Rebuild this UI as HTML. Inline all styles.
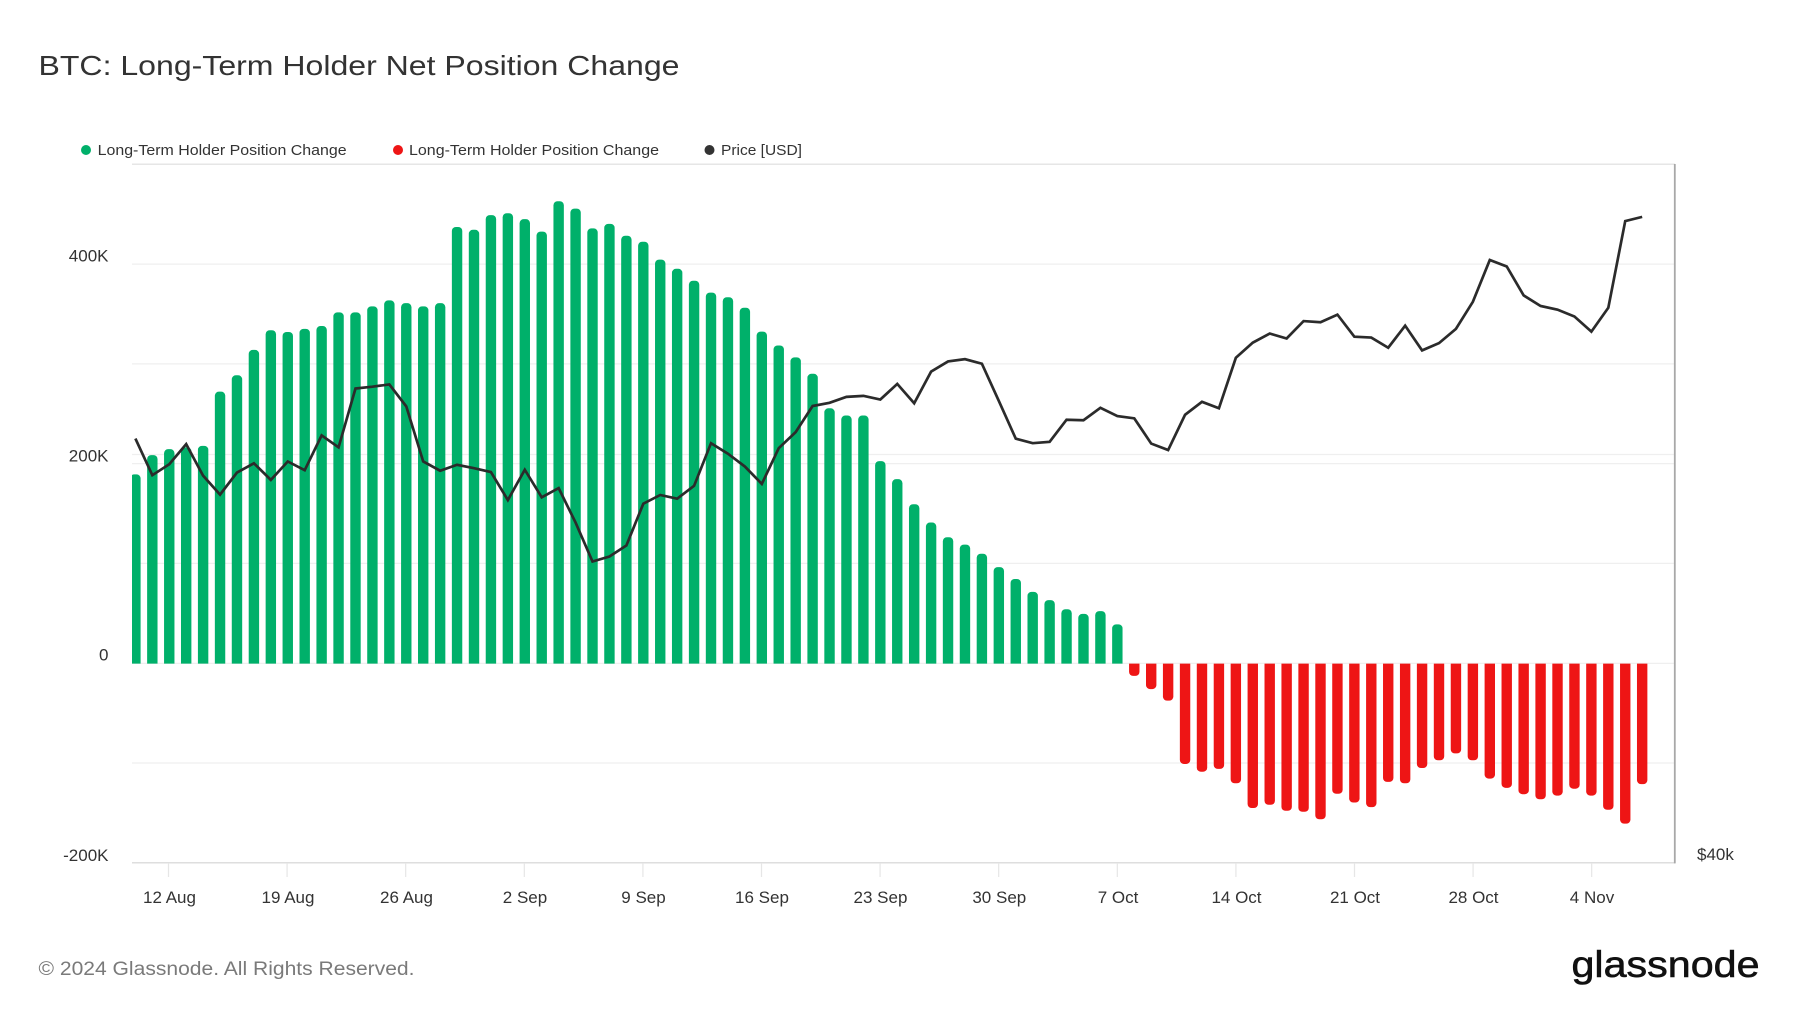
<!DOCTYPE html>
<html>
<head>
<meta charset="utf-8">
<style>
html,body{margin:0;padding:0;background:#fff;}
svg{display:block;}
text{font-family:"Liberation Sans",Arial,sans-serif;}
</style>
</head>
<body>
<svg width="1800" height="1013" viewBox="0 0 1800 1013" xmlns="http://www.w3.org/2000/svg">
<defs>
<clipPath id="pos"><rect x="132" y="150" width="1543" height="516.5"/></clipPath>
<clipPath id="neg"><rect x="132" y="666.5" width="1543" height="200"/></clipPath>
</defs>
<rect width="1800" height="1013" fill="#fff"/>
<text x="38.5" y="75" font-size="28" fill="#333" textLength="641" lengthAdjust="spacingAndGlyphs">BTC: Long-Term Holder Net Position Change</text>

<circle cx="86" cy="150" r="5" fill="#00b06a"/>
<text x="97.6" y="155" font-size="15" fill="#333" textLength="249" lengthAdjust="spacingAndGlyphs">Long-Term Holder Position Change</text>
<circle cx="398" cy="150" r="5" fill="#ee1515"/>
<text x="409" y="155" font-size="15" fill="#333" textLength="250" lengthAdjust="spacingAndGlyphs">Long-Term Holder Position Change</text>
<circle cx="709.5" cy="150" r="5" fill="#333"/>
<text x="721" y="155" font-size="15" fill="#333" textLength="81" lengthAdjust="spacingAndGlyphs">Price [USD]</text>

<g stroke="#efefef" stroke-width="1.2">
<line x1="132" y1="264.1" x2="1675" y2="264.1"/>
<line x1="132" y1="363.9" x2="1675" y2="363.9"/>
<line x1="132" y1="454.5" x2="1675" y2="454.5"/>
<line x1="132" y1="463.6" x2="1675" y2="463.6"/>
<line x1="132" y1="563.4" x2="1675" y2="563.4"/>
<line x1="132" y1="663.4" x2="1675" y2="663.4"/>
<line x1="132" y1="763" x2="1675" y2="763"/>
</g>
<line x1="132" y1="164.3" x2="1675" y2="164.3" stroke="#e6e6e6" stroke-width="1.5"/>
<line x1="132" y1="862.7" x2="1675" y2="862.7" stroke="#dedede" stroke-width="1.5"/>
<line x1="1674.8" y1="164" x2="1674.8" y2="863.4" stroke="#a8a8a8" stroke-width="1.8"/>
<g stroke="#e6e6e6" stroke-width="1.2">
<line x1="168.5" y1="863" x2="168.5" y2="877"/>
<line x1="287.1" y1="863" x2="287.1" y2="877"/>
<line x1="405.7" y1="863" x2="405.7" y2="877"/>
<line x1="524.3" y1="863" x2="524.3" y2="877"/>
<line x1="642.9" y1="863" x2="642.9" y2="877"/>
<line x1="761.5" y1="863" x2="761.5" y2="877"/>
<line x1="880.1" y1="863" x2="880.1" y2="877"/>
<line x1="998.7" y1="863" x2="998.7" y2="877"/>
<line x1="1117.3" y1="863" x2="1117.3" y2="877"/>
<line x1="1235.9" y1="863" x2="1235.9" y2="877"/>
<line x1="1354.5" y1="863" x2="1354.5" y2="877"/>
<line x1="1473.1" y1="863" x2="1473.1" y2="877"/>
<line x1="1591.7" y1="863" x2="1591.7" y2="877"/>
</g>

<g font-size="17" fill="#333" text-anchor="end">
<text x="108.5" y="261.4">400K</text>
<text x="108.5" y="461.5">200K</text>
<text x="108.5" y="660.3">0</text>
<text x="108.5" y="860.8">-200K</text>
</g>
<text x="1697" y="860" font-size="17" fill="#333">$40k</text>

<g font-size="17" fill="#333" text-anchor="middle">
<text x="169.5" y="903">12 Aug</text>
<text x="288" y="903">19 Aug</text>
<text x="406.5" y="903">26 Aug</text>
<text x="525" y="903">2 Sep</text>
<text x="643.5" y="903">9 Sep</text>
<text x="762" y="903">16 Sep</text>
<text x="880.5" y="903">23 Sep</text>
<text x="999.3" y="903">30 Sep</text>
<text x="1118" y="903">7 Oct</text>
<text x="1236.5" y="903">14 Oct</text>
<text x="1355" y="903">21 Oct</text>
<text x="1473.5" y="903">28 Oct</text>
<text x="1592" y="903">4 Nov</text>
</g>

<g transform="matrix(1 0 0 0.99434 0 0.9056)">
<g fill="#00b06a" clip-path="url(#pos)">
<rect x="130.20" y="476.2" width="10.4" height="196.3" rx="4"/>
<rect x="147.13" y="456.8" width="10.4" height="215.7" rx="4"/>
<rect x="164.06" y="450.8" width="10.4" height="221.7" rx="4"/>
<rect x="180.99" y="449" width="10.4" height="223.5" rx="4"/>
<rect x="197.92" y="447.5" width="10.4" height="225" rx="4"/>
<rect x="214.85" y="393" width="10.4" height="279.5" rx="4"/>
<rect x="231.78" y="376.5" width="10.4" height="296" rx="4"/>
<rect x="248.71" y="351" width="10.4" height="321.5" rx="4"/>
<rect x="265.64" y="331.2" width="10.4" height="341.3" rx="4"/>
<rect x="282.57" y="333" width="10.4" height="339.5" rx="4"/>
<rect x="299.50" y="329.8" width="10.4" height="342.7" rx="4"/>
<rect x="316.43" y="327" width="10.4" height="345.5" rx="4"/>
<rect x="333.36" y="313.2" width="10.4" height="359.3" rx="4"/>
<rect x="350.29" y="313.2" width="10.4" height="359.3" rx="4"/>
<rect x="367.22" y="307.2" width="10.4" height="365.3" rx="4"/>
<rect x="384.15" y="301.2" width="10.4" height="371.3" rx="4"/>
<rect x="401.08" y="304" width="10.4" height="368.5" rx="4"/>
<rect x="418.01" y="307.2" width="10.4" height="365.3" rx="4"/>
<rect x="434.94" y="304" width="10.4" height="368.5" rx="4"/>
<rect x="451.87" y="227.4" width="10.4" height="445.1" rx="4"/>
<rect x="468.80" y="230.2" width="10.4" height="442.3" rx="4"/>
<rect x="485.73" y="215.4" width="10.4" height="457.1" rx="4"/>
<rect x="502.66" y="213.5" width="10.4" height="459" rx="4"/>
<rect x="519.59" y="219.5" width="10.4" height="453" rx="4"/>
<rect x="536.52" y="232" width="10.4" height="440.5" rx="4"/>
<rect x="553.45" y="201.5" width="10.4" height="471" rx="4"/>
<rect x="570.38" y="208.9" width="10.4" height="463.6" rx="4"/>
<rect x="587.31" y="228.8" width="10.4" height="443.7" rx="4"/>
<rect x="604.24" y="224.2" width="10.4" height="448.3" rx="4"/>
<rect x="621.17" y="236.2" width="10.4" height="436.3" rx="4"/>
<rect x="638.10" y="242.2" width="10.4" height="430.3" rx="4"/>
<rect x="655.03" y="260.2" width="10.4" height="412.3" rx="4"/>
<rect x="671.96" y="269.4" width="10.4" height="403.1" rx="4"/>
<rect x="688.89" y="281.4" width="10.4" height="391.1" rx="4"/>
<rect x="705.82" y="293.4" width="10.4" height="379.1" rx="4"/>
<rect x="722.75" y="298" width="10.4" height="374.5" rx="4"/>
<rect x="739.68" y="308.6" width="10.4" height="363.9" rx="4"/>
<rect x="756.61" y="332.6" width="10.4" height="339.9" rx="4"/>
<rect x="773.54" y="346.5" width="10.4" height="326" rx="4"/>
<rect x="790.47" y="358.5" width="10.4" height="314" rx="4"/>
<rect x="807.40" y="375" width="10.4" height="297.5" rx="4"/>
<rect x="824.33" y="409.7" width="10.4" height="262.8" rx="4"/>
<rect x="841.26" y="417" width="10.4" height="255.5" rx="4"/>
<rect x="858.19" y="417" width="10.4" height="255.5" rx="4"/>
<rect x="875.12" y="462.8" width="10.4" height="209.7" rx="4"/>
<rect x="892.05" y="481" width="10.4" height="191.5" rx="4"/>
<rect x="908.98" y="506.2" width="10.4" height="166.3" rx="4"/>
<rect x="925.91" y="524.6" width="10.4" height="147.9" rx="4"/>
<rect x="942.84" y="539.4" width="10.4" height="133.1" rx="4"/>
<rect x="959.77" y="546.8" width="10.4" height="125.7" rx="4"/>
<rect x="976.70" y="556" width="10.4" height="116.5" rx="4"/>
<rect x="993.63" y="569.4" width="10.4" height="103.1" rx="4"/>
<rect x="1010.56" y="581.4" width="10.4" height="91.1" rx="4"/>
<rect x="1027.49" y="594.3" width="10.4" height="78.2" rx="4"/>
<rect x="1044.42" y="602.6" width="10.4" height="69.9" rx="4"/>
<rect x="1061.35" y="611.8" width="10.4" height="60.7" rx="4"/>
<rect x="1078.28" y="616.5" width="10.4" height="56" rx="4"/>
<rect x="1095.21" y="613.7" width="10.4" height="58.8" rx="4"/>
<rect x="1112.14" y="627" width="10.4" height="45.5" rx="4"/>
</g>
<g fill="#ee1515" clip-path="url(#neg)">
<rect x="1129.07" y="660.5" width="10.4" height="18.3" rx="4"/>
<rect x="1146.00" y="660.5" width="10.4" height="31.6" rx="4"/>
<rect x="1162.93" y="660.5" width="10.4" height="43.2" rx="4"/>
<rect x="1179.86" y="660.5" width="10.4" height="106.9" rx="4"/>
<rect x="1196.79" y="660.5" width="10.4" height="114.7" rx="4"/>
<rect x="1213.72" y="660.5" width="10.4" height="111.9" rx="4"/>
<rect x="1230.65" y="660.5" width="10.4" height="126.3" rx="4"/>
<rect x="1247.58" y="660.5" width="10.4" height="151.2" rx="4"/>
<rect x="1264.51" y="660.5" width="10.4" height="147.9" rx="4"/>
<rect x="1281.44" y="660.5" width="10.4" height="154" rx="4"/>
<rect x="1298.37" y="660.5" width="10.4" height="155" rx="4"/>
<rect x="1315.30" y="660.5" width="10.4" height="162.5" rx="4"/>
<rect x="1332.23" y="660.5" width="10.4" height="136.9" rx="4"/>
<rect x="1349.16" y="660.5" width="10.4" height="145.7" rx="4"/>
<rect x="1366.09" y="660.5" width="10.4" height="150.3" rx="4"/>
<rect x="1383.02" y="660.5" width="10.4" height="124.9" rx="4"/>
<rect x="1399.95" y="660.5" width="10.4" height="126.3" rx="4"/>
<rect x="1416.88" y="660.5" width="10.4" height="111" rx="4"/>
<rect x="1433.81" y="660.5" width="10.4" height="103.2" rx="4"/>
<rect x="1450.74" y="660.5" width="10.4" height="96.3" rx="4"/>
<rect x="1467.67" y="660.5" width="10.4" height="103.2" rx="4"/>
<rect x="1484.60" y="660.5" width="10.4" height="121.6" rx="4"/>
<rect x="1501.53" y="660.5" width="10.4" height="130.9" rx="4"/>
<rect x="1518.46" y="660.5" width="10.4" height="137.3" rx="4"/>
<rect x="1535.39" y="660.5" width="10.4" height="142.4" rx="4"/>
<rect x="1552.32" y="660.5" width="10.4" height="138.7" rx="4"/>
<rect x="1569.25" y="660.5" width="10.4" height="131.8" rx="4"/>
<rect x="1586.18" y="660.5" width="10.4" height="138.7" rx="4"/>
<rect x="1603.11" y="660.5" width="10.4" height="153" rx="4"/>
<rect x="1620.04" y="660.5" width="10.4" height="166.9" rx="4"/>
<rect x="1636.97" y="660.5" width="10.4" height="127.2" rx="4"/>
</g>
<polyline fill="none" stroke="#2b2b2b" stroke-width="2.7" stroke-linejoin="miter" stroke-miterlimit="3" points="135.40,440.2 152.33,477 169.26,466 186.19,445.7 203.12,477.5 220.05,496.5 236.98,474.3 253.91,465 270.84,481.7 287.77,463.2 304.70,472 321.63,437 338.56,449 355.49,389.8 372.42,388 389.35,385.7 406.28,407.8 423.21,463.2 440.14,472.5 457.07,466.5 474.00,470 490.93,473.8 507.86,502 524.79,471.5 541.72,499.2 558.65,490 575.58,524.6 592.51,563.8 609.44,558.8 626.37,547.7 643.30,505.7 660.23,496.9 677.16,500.6 694.09,487.7 711.02,444.8 727.95,455.4 744.88,468.3 761.81,485.8 778.74,449.8 795.67,433.7 812.60,407.4 829.53,404.2 846.46,398.2 863.39,397.2 880.32,400.9 897.25,385.2 914.18,404.6 931.11,372.8 948.04,362.6 964.97,360.3 981.90,364.9 998.83,402.3 1015.76,440.2 1032.69,444.8 1049.62,443.4 1066.55,421.2 1083.48,421.7 1100.41,409.2 1117.34,417.5 1134.27,419.8 1151.20,445.2 1168.13,451.7 1185.06,416.2 1201.99,403.2 1218.92,409.7 1235.85,358.9 1252.78,343.7 1269.71,334.5 1286.64,339.5 1303.57,322 1320.50,323.2 1337.43,315.5 1354.36,337.7 1371.29,338.6 1388.22,348.8 1405.15,326.6 1422.08,351.5 1439.01,344.2 1455.94,329.8 1472.87,302.6 1489.80,260.6 1506.73,267.1 1523.66,296.2 1540.59,306.8 1557.52,310.5 1574.45,317.4 1591.38,332.6 1608.31,308.6 1625.24,221.4 1642.17,217.2"/>
</g>

<text x="38.5" y="975" font-size="19" fill="#7a7a7a" textLength="376" lengthAdjust="spacingAndGlyphs">© 2024 Glassnode. All Rights Reserved.</text>
<text x="1571.5" y="977" font-size="37" fill="#111" stroke="#111" stroke-width="0.6" textLength="188" lengthAdjust="spacingAndGlyphs">glassnode</text>
</svg>
</body>
</html>
